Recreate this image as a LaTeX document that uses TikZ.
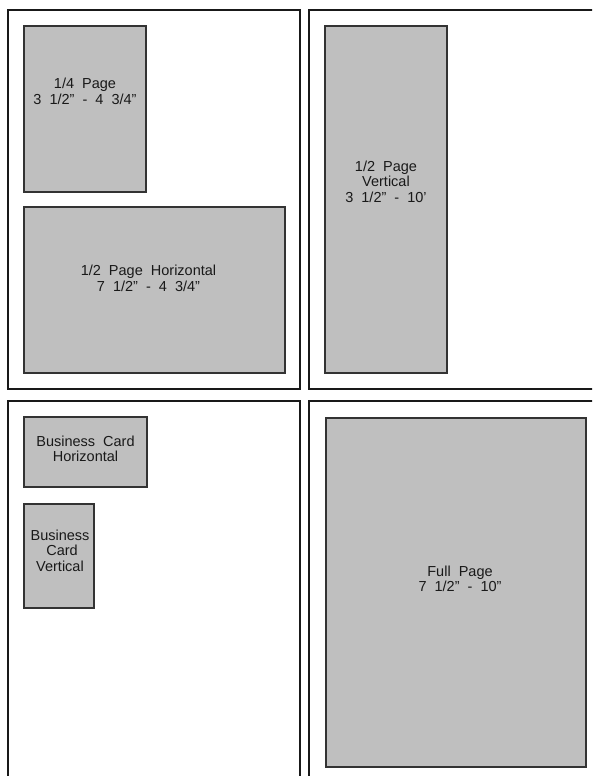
\documentclass[tikz,border=0pt]{standalone}
\usepackage{fontspec}
\setmainfont{Liberation Sans}
\newcommand\myqq{\symbol{34}}
\newcommand\myq{\symbol{39}}
\begin{document}
\begin{tikzpicture}[x=1pt,y=-1pt,
  panel/.style={draw=black!90,line width=1.3pt,fill=white},
  adbox/.style={draw=black!80,line width=1.3pt,fill=black!25},
  lbl/.style={align=center,text=black!90,inner sep=0pt,
    font=\fontsize{14.5}{15.4}\selectfont}]
\useasboundingbox (0,0) rectangle (592,776);
\clip (0,0) rectangle (592,776);
\fill[white] (0,0) rectangle (592,776);
% panels
\draw[panel] (8,10) rectangle (300,389);
\draw[panel] (309,10) rectangle (610,389);
\draw[panel] (8,401) rectangle (300,800);
\draw[panel] (309,401) rectangle (610,800);
% ad boxes
\draw[adbox] (24,26) rectangle (146,192);
\draw[adbox] (24,207) rectangle (285,373);
\draw[adbox] (325,26) rectangle (447,373);
\draw[adbox] (24,417) rectangle (147,487);
\draw[adbox] (24,504) rectangle (94,608);
\draw[adbox] (326,418) rectangle (586,767);
% labels
\node[lbl] (q) at (85,91.5) {1/4~ Page\\3~ 1/2\myqq~ -~ 4~ 3/4\myqq};
\node[lbl] (h) at (148.5,278.5) {1/2~ Page~ Horizontal\\7~ 1/2\myqq~ -~ 4~ 3/4\myqq};
\node[lbl] (v) at (386,181.5) {1/2~ Page\\Vertical\\3~ 1/2\myqq~ -~ 10\myq};
\node[lbl] (bch) at (85.5,449) {Business~ Card\\Horizontal};
\node[lbl] (bcv) at (60,550.5) {Business\\~Card\\Vertical};
\node[lbl] (f) at (460,579) {Full~ Page\\7~ 1/2\myqq~ -~ 10\myqq};
\end{tikzpicture}
\end{document}
